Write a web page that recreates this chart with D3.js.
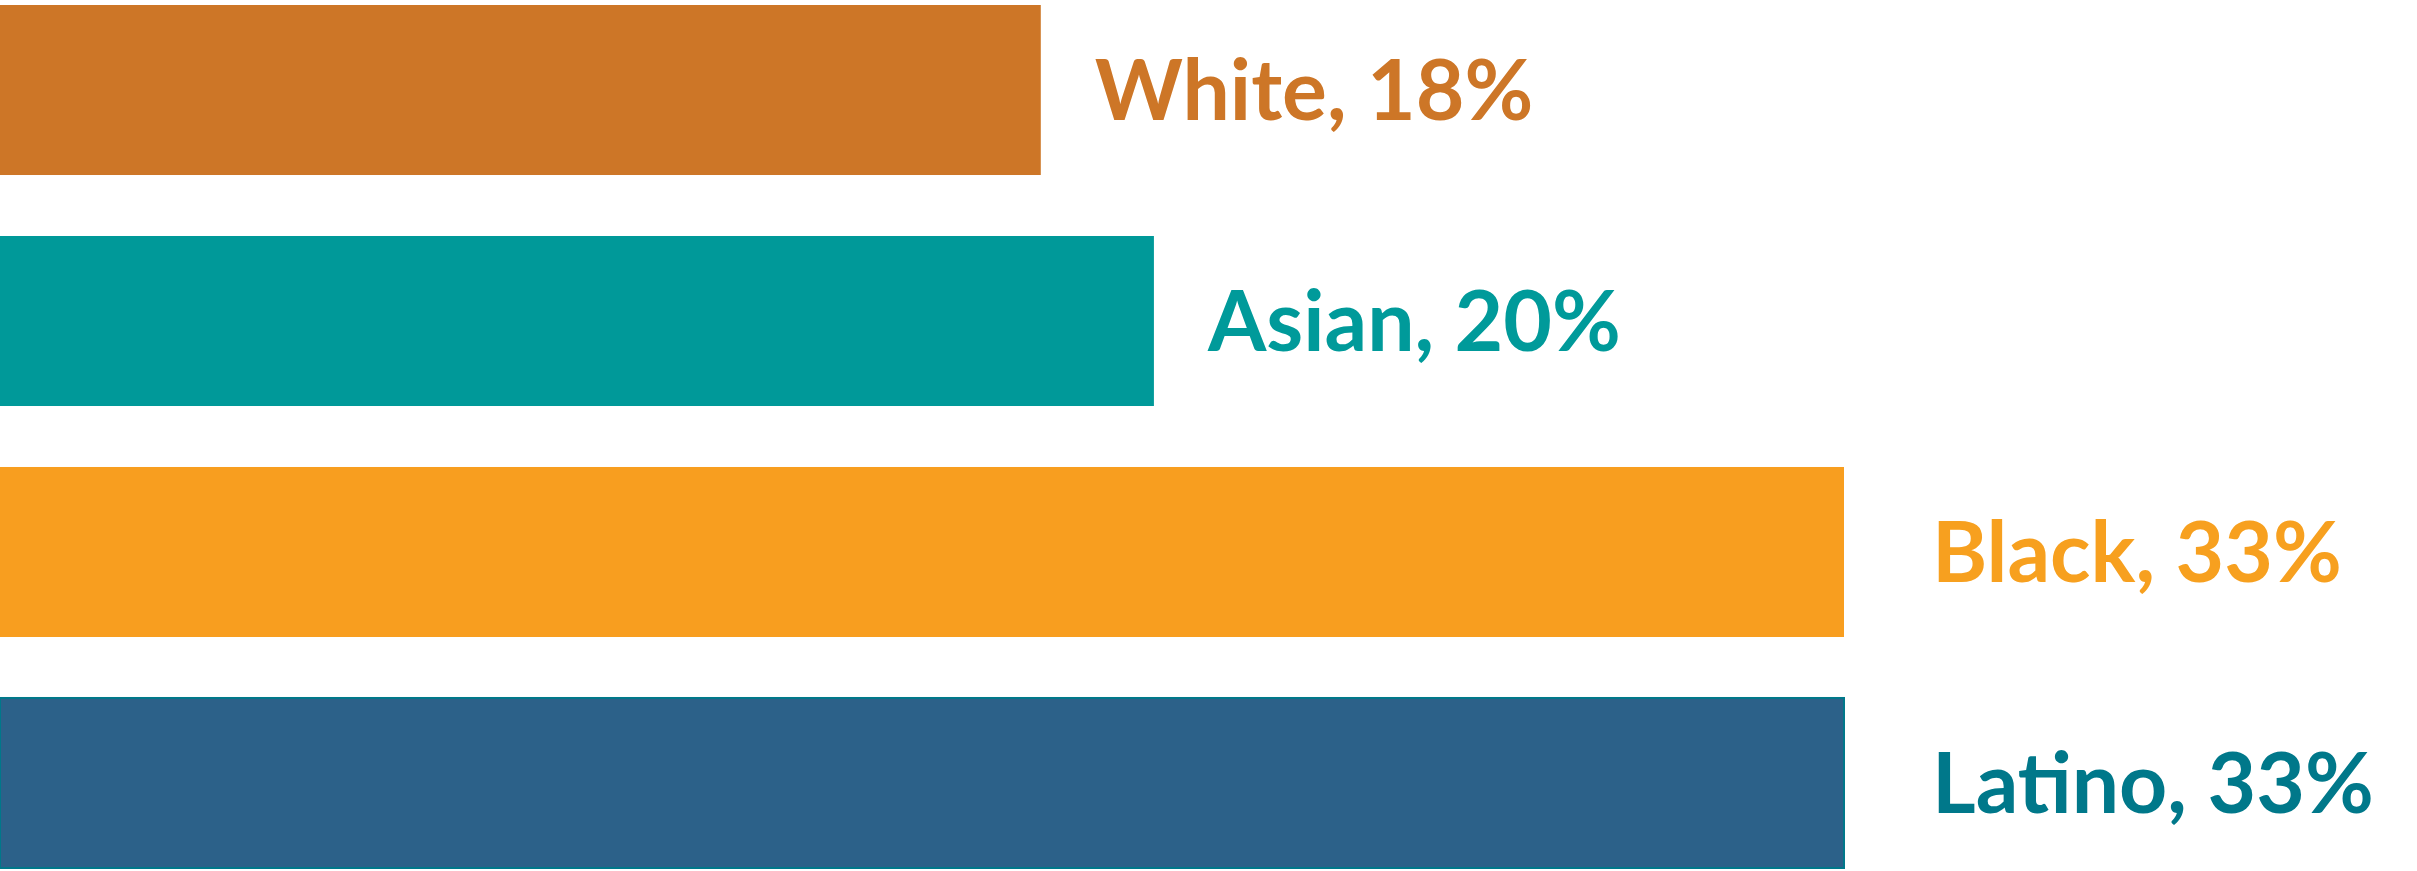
<!DOCTYPE html>
<html>
<head>
    <script type="text/javascript" src="https://cdn.jsdelivr.net/npm/d3@7/dist/d3.min.js" charset="utf-8"></script>
    <style>
        html, body { margin: 0; padding: 0; background: #ffffff; }
        svg { display: block; }
    </style>
</head>
<body>
    <div id="viz"></div>
    <script type="text/javascript">
    //Data
    var groups = ["White", "Asian", "Black", "Latino"];
    var shares = [18.4, 20.4, 32.6, 32.6];     //percent
    var barColors = ["#cd7627", "#009999", "#f89e1f", "#2c6189"];
    var labelColors = ["#cd7627", "#009a9a", "#f7a01f", "#00788a"];

    //Size
    var width = 2417;
    var height = 871;
    var capHeight = 60;     //label cap height in px

    var rows = groups.map(function(g, i) {
        return { name: g, value: shares[i], fill: barColors[i], text: labelColors[i] };
    });

    var svg = d3.select("#viz")
        .append("svg")
        .attr("width", width)
        .attr("height", height);

    //Scales
    var xMax = d3.max(shares);
    var x = d3.scaleLinear()
        .domain([0, xMax])
        .range([0, 1844]);

    var y = d3.scaleBand()
        .domain(groups)
        .range([5, 868])
        .paddingInner(0.264)
        .paddingOuter(0);

    //Bars
    svg.selectAll("rect.bar")
        .data(rows)
        .enter()
        .append("rect")
        .attr("class", "bar")
        .attr("x", x(0))
        .attr("y", function(d) { return y(d.name); })
        .attr("width", function(d) { return x(d.value) - x(0); })
        .attr("height", y.bandwidth())
        .attr("fill", function(d) { return d.fill; })
        .attr("stroke", function(d) { return d.name === "Latino" ? "#00788a" : "none"; })
        .attr("stroke-width", 2);

    //Labels (the longest bars sit a bit further from their label)
    svg.selectAll("text.label")
        .data(rows)
        .enter()
        .append("text")
        .attr("class", "label")
        .attr("x", function(d) { return x(d.value) + (d.value >= xMax ? 88 : 54); })
        .attr("y", function(d) { return y(d.name) + y.bandwidth() / 2 + capHeight / 2; })
        .attr("fill", function(d) { return d.text; })
        .style("font-family", "Lato, 'Open Sans', sans-serif")
        .style("font-weight", 700)
        .style("font-size", "84px")
        .text(function(d) { return d.name + ", " + Math.round(d.value) + "%"; });
    </script>
</body>
</html>
